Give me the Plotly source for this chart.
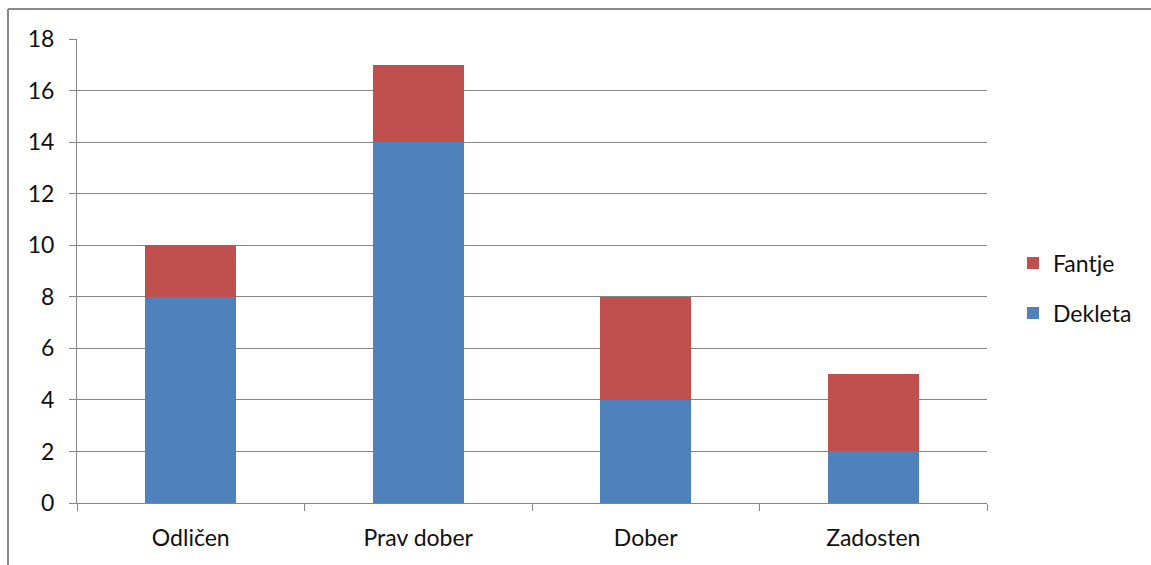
import plotly.graph_objects as go

categories = ["Odličen", "Prav dober", "Dober", "Zadosten"]
dekleta = [8, 14, 4, 2]
fantje = [2, 3, 4, 3]
y_ticks = [0, 2, 4, 6, 8, 10, 12, 14, 16, 18]

W, H = 1151, 565
L, R, T, B = 77, 164, 39, 62
pw, ph = W - L - R, H - T - B

def px_x(x):
    return (x - L) / pw

def px_y(y):
    return (H - B - y) / ph

FONT = "Lato"
GRID = "#868686"

fig = go.Figure()
fig.add_trace(go.Bar(x=categories, y=dekleta, name="Dekleta",
                     marker=dict(color="#4F81BD", line=dict(width=0)),
                     legendgroup="d", legendrank=2))
fig.add_trace(go.Bar(x=categories, y=fantje, name="Fantje",
                     marker=dict(color="#C0504D", line=dict(width=0)),
                     legendgroup="f", legendrank=1))

fig.update_layout(
    width=W, height=H,
    margin=dict(l=L, r=R, t=T, b=B, autoexpand=False),
    barmode="stack", bargap=0.6,
    paper_bgcolor="white", plot_bgcolor="white",
    font=dict(family=FONT, size=23, color="#111111"),
    legend=dict(x=px_x(1013), xanchor="left", y=0.463, yanchor="middle",
                traceorder="grouped", tracegroupgap=17,
                font=dict(size=23), itemwidth=30),
    xaxis=dict(showline=True, linecolor=GRID, linewidth=1,
               ticks="outside", tickson="boundaries", ticklen=7,
               tickcolor=GRID, showgrid=False, zeroline=False,
               ticklabelstandoff=14),
    yaxis=dict(range=[0, 18], tickvals=y_ticks, showline=True,
               linecolor=GRID, linewidth=1, ticks="outside", ticklen=7,
               tickcolor=GRID, showgrid=True, gridcolor=GRID,
               gridwidth=1, zeroline=False, ticklabelstandoff=10),
    shapes=[
        dict(type="line", xref="paper", yref="paper",
             x0=px_x(8), x1=px_x(W + 5), y0=px_y(9), y1=px_y(9),
             line=dict(color="#8a8a8a", width=2)),
        dict(type="line", xref="paper", yref="paper",
             x0=px_x(8), x1=px_x(8), y0=px_y(9), y1=px_y(H + 5),
             line=dict(color="#8a8a8a", width=2)),
    ],
)

fig.write_html("out.html")
